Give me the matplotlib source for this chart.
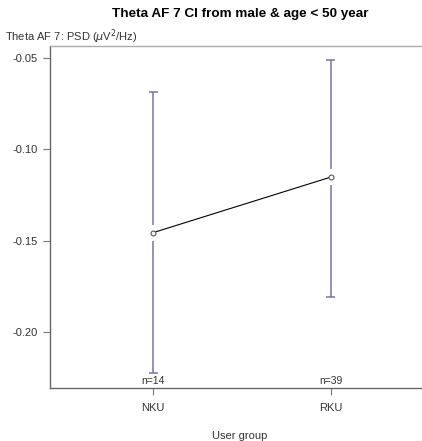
import matplotlib
matplotlib.use("Agg")
import matplotlib.pyplot as plt
import numpy as np

plt.rcParams['font.family'] = ['Liberation Sans', 'DejaVu Sans']

groups = ["NKU", "RKU"]
means = [-0.1456, -0.1152]
ci_upper = [-0.0686, -0.0510]
ci_lower = [-0.2225, -0.1810]
counts = [14, 39]
yticks = [-0.05, -0.10, -0.15, -0.20]

W, H = 422, 441
fig = plt.figure(figsize=(W / 100, H / 100), dpi=100)
left, right, top, bottom = 50, 423, 46, 388
ax = fig.add_axes([left / W, 1 - bottom / H, (right - left) / W, (bottom - top) / H])

x = np.arange(1, len(groups) + 1)
ax.set_xlim(0.418, 2.52)
ax.set_ylim(-0.2307, -0.0434)

barcol = '#7474ac'
gap_px = 8
ppu = (bottom - top) / (-0.0434 - -0.2307)
gap = gap_px / ppu
for xi, m, hi, lo in zip(x, means, ci_upper, ci_lower):
    ax.vlines(xi, m + gap, hi, color=barcol, lw=1.1)
    ax.vlines(xi, lo, m - gap, color=barcol, lw=1.1)
    ax.hlines([hi, lo], xi - 0.025, xi + 0.025, color=barcol, lw=1.1)

ax.plot(x, means, color='black', lw=0.8)
ax.plot(x, means, 'o', mfc='white', mec='#555555', ms=3.5, mew=0.8, ls='none')

for xi, n in zip(x, counts):
    ax.text(xi, -0.2307 + 0.0010, f"n={n}", ha='center', va='bottom', fontsize=7.5, color='#333333')

ax.set_xticks(x)
ax.set_xticklabels(groups)
ax.set_yticks(yticks)
ax.set_yticklabels([f"{v:.2f}" for v in yticks])
ax.tick_params(axis='both', direction='out', length=5, width=0.8, color='#777777', labelsize=8, labelcolor='#333333')
ax.tick_params(axis='x', pad=6)
ax.tick_params(axis='y', pad=4)
for s in ['left', 'bottom', 'top']:
    ax.spines[s].set_color('#666666')
    ax.spines[s].set_linewidth(1.0)
ax.spines['top'].set_color('#aaaaaa')
ax.spines['right'].set_visible(False)

fig.text(240 / W, 1 - 14 / H, "Theta AF 7 CI from male & age < 50 year", ha='center', va='center',
         fontsize=9.7, fontweight='bold', color='black')
fig.text(5 / W, 1 - 37 / H, r"Theta AF 7: PSD ($\mu$V$^2$/Hz)", ha='left', va='center',
         fontsize=8, color='#333333')
fig.text(240 / W, 1 - 436 / H, "User group", ha='center', va='center', fontsize=8, color='#333333')

fig.savefig("out.png", dpi=100)
